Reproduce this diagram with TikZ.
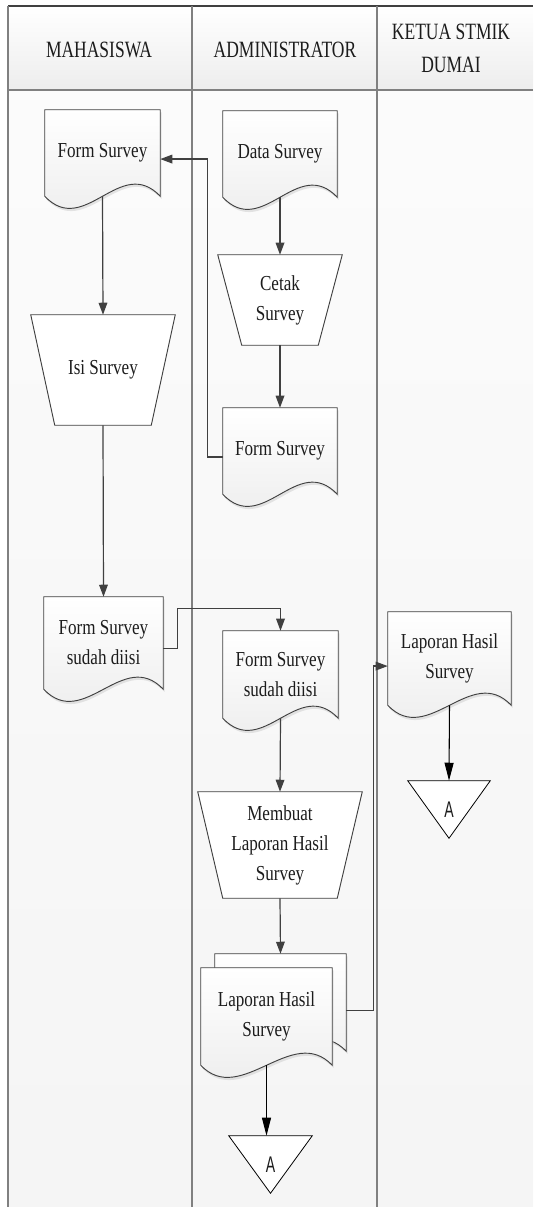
\documentclass[tikz,border=0pt]{standalone}
\usepackage{fontspec}
\setmainfont{Liberation Serif}[FakeStretch=0.8]
\newfontfamily\headfont{Liberation Serif}[FakeStretch=0.75]
\newfontfamily\offfont{Liberation Sans}[FakeStretch=0.62]
\usetikzlibrary{arrows.meta,calc}

\pgfdeclarelayer{lanes}
\pgfdeclarelayer{shapes}
\pgfsetlayers{lanes,shapes,main}

\definecolor{linegray}{RGB}{64,64,64}
\definecolor{lanegray}{RGB}{128,128,128}
\definecolor{textgray}{RGB}{28,28,28}

\tikzset{
  box/.style 2 args={rectangle, draw=none, inner sep=0pt, align=center, text=textgray,
    minimum width=#1*0.75pt, minimum height=#2*0.75pt, font=\fontsize{16}{22.5}\selectfont},
  head/.style={align=center, inner sep=0pt, text=textgray, font=\headfont\fontsize{17.5}{24.75}\selectfont},
  docbox/.style={draw=linegray, line width=0.7pt, top color=white, bottom color=gray!16},
  trapbox/.style={draw=linegray, line width=0.7pt, fill=white},
  offbox/.style={draw=black, line width=0.6pt, fill=white},
  conn/.style={draw=linegray, line width=0.9pt, -{Triangle[length=9pt,width=6.5pt]}},
  offconn/.style={draw=black, line width=0.8pt, -{Triangle[length=13.5pt,width=6.75pt]}}
}

% document outline round a node
\newcommand{\docshape}[1]{%
  \begin{pgfonlayer}{shapes}
    \fill[gray!45, opacity=0.45, transform canvas={xshift=1pt,yshift=-2pt}] (#1.north west) -- (#1.north east) -- (#1.south east)
      .. controls +(-40,-42) and +(40,42) .. (#1.south west) -- cycle;
    \draw[docbox] (#1.north west) -- (#1.north east) -- (#1.south east)
      .. controls +(-40,-42) and +(40,42) .. (#1.south west) -- cycle;
  \end{pgfonlayer}}
% manual operation outline
\newcommand{\trapshape}[2]{%
  \begin{pgfonlayer}{shapes}
    \draw[trapbox] (#1.north west) -- (#1.north east) -- ($(#1.south east)+(-#2,0)$)
      -- ($(#1.south west)+(#2,0)$) -- cycle;
  \end{pgfonlayer}}
% off-page connector
\newcommand{\offshape}[1]{%
  \begin{pgfonlayer}{shapes}
    \draw[offbox] (#1.north west) -- (#1.north east) -- (#1.south) -- cycle;
  \end{pgfonlayer}}

\begin{document}
\begin{tikzpicture}[x=0.75pt,y=0.75pt,yscale=-1,xscale=1]
\useasboundingbox (0,0) rectangle (533,1207);

%Swimlanes
\begin{pgfonlayer}{lanes}
  \shade[top color=gray!3, bottom color=gray!8] (8,90) rectangle (533,1207);
  \shade[top color=white, bottom color=gray!14] (8,6) rectangle (192,90);
  \shade[top color=white, bottom color=gray!14] (192,6) rectangle (377,90);
  \shade[top color=white, bottom color=gray!14] (377,6) rectangle (533,90);
  \draw[linegray, line width=1pt] (8,6) -- (533,6);
  \draw[lanegray, line width=1.4pt] (8,90) -- (533,90);
  \draw[lanegray, line width=1.1pt] (8,6) -- (8,1207);
  \draw[lanegray, line width=1.1pt] (192,6) -- (192,1207);
  \draw[lanegray, line width=1.1pt] (377,6) -- (377,1207);
\end{pgfonlayer}

% Text Node
\node[head] (hMhs) at (99,50) {MAHASISWA};
\node[head] (hAdm) at (285,50) {ADMINISTRATOR};
\node[head] (hKet) at (451,48) {KETUA STMIK\\DUMAI};

%Shape: Document
\node[box={115}{86}] (fs1) at (102.5,153) {Form Survey};
\docshape{fs1}
\node[box={114}{86}] (ds) at (280,154) {Data Survey};
\docshape{ds}
\node[box={114}{86}] (fs2) at (280,451) {Form Survey};
\docshape{fs2}
\node[box={119}{92}] (fss1) at (103.5,643) {Form Survey\\sudah diisi};
\docshape{fss1}
\node[box={115}{87}] (fss2) at (280.5,674.5) {Form Survey\\sudah diisi};
\docshape{fss2}
\node[box={123}{93}] (lhs3) at (449.5,658.5) {Laporan Hasil\\Survey};
\docshape{lhs3}
%Shape: Multi Document
\node[box={131}{97}] (lhs2b) at (280.5,1002.5) {};
\docshape{lhs2b}
\node[box={131}{97}] (lhs2) at (266.5,1016.5) {Laporan Hasil\\Survey};
\docshape{lhs2}

%Shape: Manual Operation
\node[box={124}{90}] (cetak) at (280,300) {Cetak\\Survey};
\trapshape{cetak}{24}
\node[box={144}{110}] (isi) at (103,370) {Isi Survey};
\trapshape{isi}{24}
\node[box={164}{106}] (membuat) at (280,845) {Membuat\\Laporan Hasil\\Survey};
\trapshape{membuat}{25}

%Shape: Off-page
\node[box={82}{57}, font=\offfont\fontsize{17}{18}\selectfont] (a3) at (449,809.5) {A};
\offshape{a3}
\node[box={83}{57}, font=\offfont\fontsize{17}{18}\selectfont] (a2) at (270.5,1164.5) {A};
\offshape{a2}

%Straight Lines
\draw[conn] (fs1.south) -- (isi.north);
\draw[conn] (isi.south) -- (fss1.north);
\draw[conn] (ds.south) -- (cetak.north);
\draw[conn] (cetak.south) -- (fs2.north);
\draw[conn] (fs2.186) -- ++(-15,0) |- (fs1.-6);
\draw[conn] (fss1.-5) -- ++(14,0) |- ([yshift=-16.5pt]fss2.north) -- (fss2.north);
\draw[conn] (fss2.south) -- (membuat.north);
\draw[conn] (membuat.south) -- (lhs2b.north);
\draw[conn] (lhs2b.-7) -- ++(27,0) |- (lhs3.187);
\draw[offconn] (lhs3.south) -- (a3.north);
\draw[offconn] (lhs2.south) -- (lhs2.south |- a2.north);

\end{tikzpicture}
\end{document}
